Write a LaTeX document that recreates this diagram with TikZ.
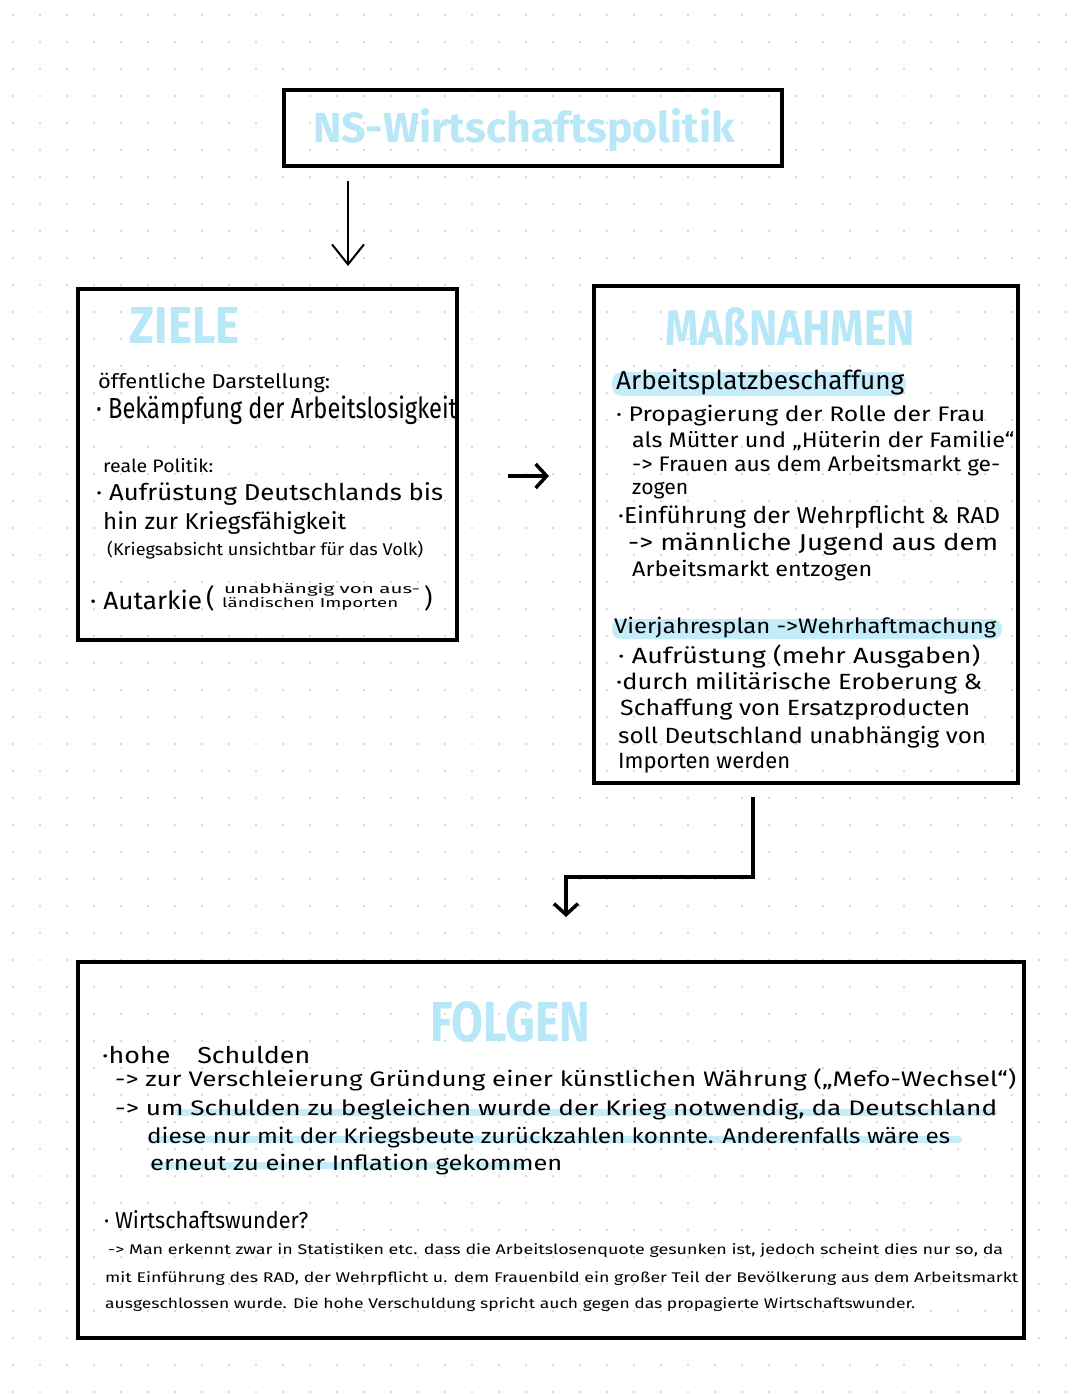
\documentclass[tikz,border=0pt]{standalone}
\usepackage{fontspec}
\usepackage{graphicx}
\setmainfont{Fira Sans}
\usetikzlibrary{arrows.meta}
\definecolor{headblue}{RGB}{184,232,248}
\definecolor{hlblue}{RGB}{196,236,249}
\definecolor{dotc}{RGB}{205,205,205}
\newcommand{\fs}[1]{\fontsize{#1}{#1}\selectfont}
\newcommand{\hfs}[1]{\fontsize{#1}{#1}\selectfont\bfseries}
\newcommand{\fw}[2]{\resizebox{#1pt}{\height}{#2}}
\tikzset{
  box/.style={draw=black, line width=3.5pt, inner sep=0pt},
  tl/.style={anchor=west, inner sep=0pt, text=black},
  head/.style={inner sep=0pt, text=headblue},
  hl/.style={fill=hlblue},
  thinarr/.style={line width=2pt, -{Straight Barb[length=20pt,width=32pt]}},
  thickarr/.style={line width=3.5pt, -{Straight Barb[length=11pt,width=24pt]}},
}
\begin{document}
\begin{tikzpicture}[x=1pt,y=-1pt]
\useasboundingbox (0,0) rectangle (1080,1394);
\fill[white] (0,0) rectangle (1080,1394);
% dot grid
\foreach \i in {0,...,39}{\foreach \j in {0,...,51}{
  \fill[dotc] ({13+27*\i},{15+27*\j}) circle (1.1pt);}}

% highlights
\fill[hl, rounded corners=10pt] (612,372) rectangle (906,396);
\fill[hl, rounded corners=9pt] (612,619) rectangle (1002,639);
\fill[hl, rounded corners=3.5pt] (175,1109) rectangle (997,1116);
\fill[hl, rounded corners=3.5pt] (148,1136) rectangle (962,1143);
\fill[hl, rounded corners=3.5pt] (150,1162) rectangle (525,1169);

% boxes
\node[box, minimum width=498pt, minimum height=76pt] (tbox) at (533,128) {};
\node[box, minimum width=379pt, minimum height=351pt] (zbox) at (267.5,464.5) {};
\node[box, minimum width=424pt, minimum height=497pt] (mbox) at (806,534.5) {};
\node[box, minimum width=946pt, minimum height=376pt] (fbox) at (551,1150) {};

% headers
\node[head, font=\hfs{42}] (ttl) at (524,130) {\fw{422}{NS-Wirtschaftspolitik}};
\node[head, font=\hfs{48}] (zh) at (185,325) {\resizebox{110pt}{36pt}{ZIELE}};
\node[head, font=\hfs{48}] (mh) at (790,327) {\resizebox{250pt}{38pt}{MAßNAHMEN}};
\node[head, font=\hfs{48}] (fh) at (510,1022) {\resizebox{160pt}{40pt}{FOLGEN}};

% connectors
\coordinate (a1s) at (348,181);
\coordinate (a1e) at (348,266);
\draw[thinarr] (a1s) -- (a1e);
\coordinate (a2s) at (508,476);
\coordinate (a2e) at (549,476);
\draw[thickarr] (a2s) -- (a2e);
\coordinate (a3s) at (753,797);
\coordinate (a3c1) at (753,877);
\coordinate (a3c2) at (566,877);
\coordinate (a3e) at (566,917);
\draw[thickarr] (a3s) -- (a3c1) -- (a3c2) -- (a3e);

% ZIELE text
\node[tl, font=\fs{20}] (z1) at (98,383) {\fw{232}{öffentliche Darstellung:}};
\node[tl, font=\fs{29}] (z2) at (96,410) {\fw{361}{· Bekämpfung der Arbeitslosigkeit}};
\node[tl, font=\fs{18}] (z3) at (103,466) {\fw{110}{reale Politik:}};
\node[tl, font=\fs{23}] (z4) at (96,494) {\fw{347}{· Aufrüstung Deutschlands bis}};
\node[tl, font=\fs{23}] (z5) at (103,523) {\fw{243}{hin zur Kriegsfähigkeit}};
\node[tl, font=\fs{17}] (z6) at (107,550) {\fw{316}{(Kriegsabsicht unsichtbar für das Volk)}};
\node[tl, font=\fs{25}] (z7) at (90,600) {\fw{112}{· Autarkie}};
\node[tl, font=\fs{26}] (z8) at (206,598) {(};
\node[tl, font=\fs{13}] (z9) at (224,590) {\fw{196}{unabhängig von aus-}};
\node[tl, font=\fs{13}] (z10) at (222,604) {\fw{176}{ländischen Importen}};
\node[tl, font=\fs{26}] (z11) at (424,598) {)};

% MASSNAHMEN text
\node[tl, font=\fs{26}] (m1) at (616,382) {\fw{288}{Arbeitsplatzbeschaffung}};
\node[tl, font=\fs{21}] (m2) at (616,416) {\fw{369}{· Propagierung der Rolle der Frau}};
\node[tl, font=\fs{21}] (m3) at (632,441) {\fw{382}{als Mütter und „Hüterin der Familie“}};
\node[tl, font=\fs{21}] (m4) at (632,466) {\fw{368}{-> Frauen aus dem Arbeitsmarkt ge-}};
\node[tl, font=\fs{21}] (m5) at (632,491) {\fw{56}{zogen}};
\node[tl, font=\fs{23}] (m6) at (618,517) {\fw{382}{·Einführung der Wehrpflicht \& RAD}};
\node[tl, font=\fs{23}] (m7) at (628,544) {\fw{370}{-> männliche Jugend aus dem}};
\node[tl, font=\fs{21}] (m8) at (632,571) {\fw{240}{Arbeitsmarkt entzogen}};
\node[tl, font=\fs{21}] (m9) at (614,628) {\fw{382}{Vierjahresplan ->Wehrhaftmachung}};
\node[tl, font=\fs{22}] (m10) at (618,657) {\fw{362}{· Aufrüstung (mehr Ausgaben)}};
\node[tl, font=\fs{22}] (m11) at (616,683) {\fw{366}{·durch militärische Eroberung \&}};
\node[tl, font=\fs{22}] (m12) at (620,710) {\fw{350}{Schaffung von Ersatzproducten}};
\node[tl, font=\fs{22}] (m13) at (618,737) {\fw{368}{soll Deutschland unabhängig von}};
\node[tl, font=\fs{22}] (m14) at (618,763) {\fw{172}{Importen werden}};

% FOLGEN text
\node[tl, font=\fs{23}] (f1) at (102,1055) {\fw{208}{·hohe\quad Schulden}};
\node[tl, font=\fs{21}] (f2) at (115,1080) {\fw{901}{-> zur Verschleierung Gründung einer künstlichen Währung („Mefo-Wechsel“)}};
\node[tl, font=\fs{21}] (f3) at (115,1110) {\fw{882}{-> um Schulden zu begleichen wurde der Krieg notwendig, da Deutschland}};
\node[tl, font=\fs{21}] (f4) at (147,1138) {\fw{803}{diese nur mit der Kriegsbeute zurückzahlen konnte. Anderenfalls wäre es}};
\node[tl, font=\fs{21}] (f5) at (150,1165) {\fw{412}{erneut zu einer Inflation gekommen}};
\node[tl, font=\fs{23}] (f6) at (104,1220) {\fw{204}{· Wirtschaftswunder?}};
\node[tl, font=\fs{14}] (f7) at (108,1251) {\fw{895}{-> Man erkennt zwar in Statistiken etc. dass die Arbeitslosenquote gesunken ist, jedoch scheint dies nur so, da}};
\node[tl, font=\fs{14}] (f8) at (105,1279) {\fw{913}{mit Einführung des RAD, der Wehrpflicht u. dem Frauenbild ein großer Teil der Bevölkerung aus dem Arbeitsmarkt}};
\node[tl, font=\fs{14}] (f9) at (105,1305) {\fw{810}{ausgeschlossen wurde. Die hohe Verschuldung spricht auch gegen das propagierte Wirtschaftswunder.}};
\end{tikzpicture}
\end{document}
